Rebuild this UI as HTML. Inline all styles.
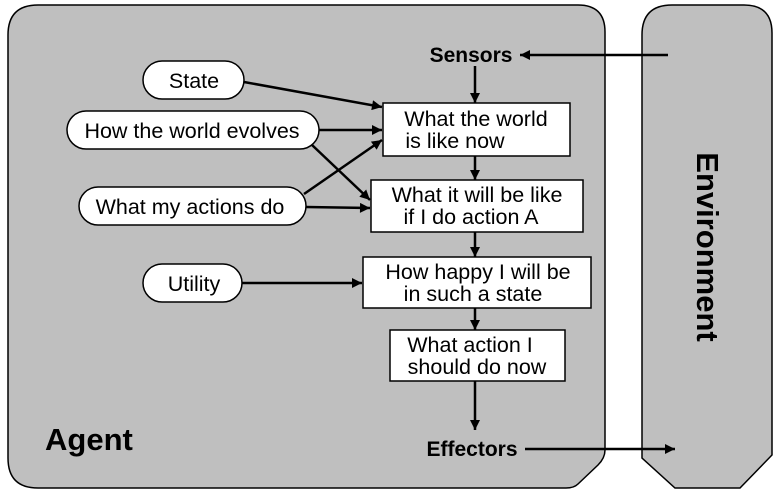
<!DOCTYPE html>
<html><head><style>html,body{margin:0;padding:0;background:#fff}</style></head><body>
<svg width="777" height="495" xmlns="http://www.w3.org/2000/svg" font-family="Liberation Sans, sans-serif">
<defs><marker id="a" viewBox="0 0 10 10" refX="10" refY="5" markerWidth="24" markerHeight="10" markerUnits="userSpaceOnUse" orient="auto"><path d="M0,0L10,5L0,10z" fill="#000"/></marker></defs>
<path d="M38,5H578Q605,5 605,32V450Q605,458 598,465L578,484Q574,488 566,488H38Q8,488 8,458V35Q8,5 38,5Z" fill="#bfbfbf" stroke="#000" stroke-width="1.5"/>
<path d="M672,5H744Q772,5 772,33V455L740,488H675L642,458V35Q642,5 672,5Z" fill="#bfbfbf" stroke="#000" stroke-width="1.5"/>
<text transform="translate(697,247) rotate(90)" text-anchor="middle" font-size="31" font-weight="bold">Environment</text>
<text x="45" y="450" font-size="31" font-weight="bold">Agent</text>
<text x="471" y="62" text-anchor="middle" font-size="21" font-weight="bold">Sensors</text>
<text x="472" y="456" text-anchor="middle" font-size="21" font-weight="bold">Effectors</text>
<g stroke="#000" stroke-width="2.5" marker-end="url(#a)">
<line x1="668" y1="55" x2="520" y2="55"/>
<line x1="475" y1="66" x2="475" y2="103"/>
<line x1="475" y1="156" x2="475" y2="180"/>
<line x1="475" y1="232" x2="475" y2="257"/>
<line x1="475" y1="308" x2="475" y2="330"/>
<line x1="475" y1="381" x2="475" y2="430"/>
<line x1="525" y1="449" x2="675" y2="449"/>
<line x1="244" y1="82" x2="382" y2="107"/>
<line x1="319" y1="130" x2="382" y2="130"/>
<line x1="312" y1="145" x2="370" y2="200"/>
<line x1="304" y1="194" x2="382" y2="140"/>
<line x1="306" y1="207" x2="370" y2="208"/>
<line x1="242" y1="283" x2="362" y2="283"/>
</g>
<g fill="#fff" stroke="#000" stroke-width="1.5">
<rect x="383" y="103" width="187" height="53"/>
<rect x="371" y="180" width="212" height="52"/>
<rect x="363" y="257" width="228" height="51"/>
<rect x="390" y="330" width="175" height="51"/>
<rect x="143" y="61" width="101" height="38" rx="19"/>
<rect x="67" y="111" width="252" height="38" rx="19"/>
<rect x="79" y="187" width="227" height="38" rx="19"/>
<rect x="143" y="264" width="99" height="38" rx="19"/>
</g>
<g font-size="21.5" text-anchor="middle">
<text x="194" y="88">State</text>
<text x="192" y="138">How the world evolves</text>
<text x="190" y="214">What my actions do</text>
<text x="194" y="291">Utility</text>
<text x="476" y="126">What the world</text>
<text x="455" y="148">is like now</text>
<text x="477" y="202">What it will be like</text>
<text x="471" y="224">if I do action A</text>
<text x="478" y="279">How happy I will be</text>
<text x="473" y="301">in such a state</text>
<text x="470" y="352">What action I</text>
<text x="477" y="374">should do now</text>
</g>
</svg>
</body></html>
